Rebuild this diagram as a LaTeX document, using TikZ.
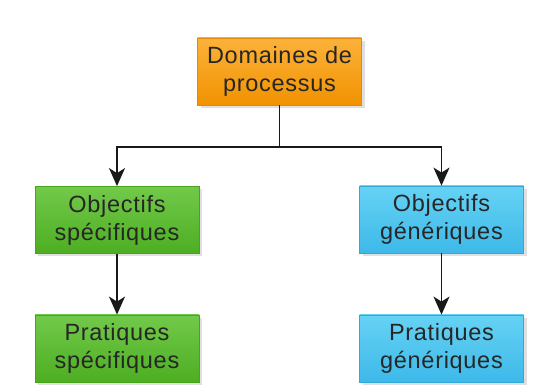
\documentclass[tikz,border=0pt]{standalone}
\usepackage{fontspec}
\setmainfont{Liberation Sans}[LetterSpace=3]
\usetikzlibrary{arrows.meta,shadows}
\definecolor{orTop}{HTML}{FBB23A}
\definecolor{orBot}{HTML}{F29200}
\definecolor{orLine}{HTML}{E08A10}
\definecolor{grTop}{HTML}{72C94A}
\definecolor{grBot}{HTML}{4DAE22}
\definecolor{grLine}{HTML}{49A31F}
\definecolor{blTop}{HTML}{66D2F4}
\definecolor{blBot}{HTML}{3DB9E9}
\definecolor{blLine}{HTML}{35A8D8}
\definecolor{txt}{HTML}{262626}
\tikzset{
  box/.style={minimum width=164pt, minimum height=67pt, inner sep=0pt,
    align=center, font=\fontsize{23.5}{28}\selectfont, text=txt, line width=0.8pt,
    drop shadow={opacity=0.25, shadow xshift=3pt, shadow yshift=-3pt}},
  orbox/.style={box, draw=orLine, top color=orTop, bottom color=orBot},
  grbox/.style={box, draw=grLine, top color=grTop, bottom color=grBot},
  blbox/.style={box, draw=blLine, top color=blTop, bottom color=blBot},
  conn/.style={line width=1.7pt, black!90},
  arr/.style={conn, -{Stealth[length=18pt, width=16pt, inset=5pt]}}
}
\begin{document}
\begin{tikzpicture}[x=1pt,y=1pt]
\useasboundingbox[fill=white] (0,0) rectangle (534,387);
\node[orbox] (dom) at (279.5,315.5) {Domaines de\\processus};
\node[grbox] (os) at (117,167) {Objectifs\\spécifiques};
\node[blbox] (og) at (441.5,167.5) {Objectifs\\génériques};
\node[grbox] (ps) at (117,38.5) {Pratiques\\spécifiques};
\node[blbox] (pg) at (441.5,38.5) {Pratiques\\génériques};
\coordinate (j) at (279.5,240);
\draw[conn] (dom.south) -- (j);
\draw[arr] (j) -| (os.north);
\draw[arr] (j) -| (og.north);
\draw[arr] (os.south) -- (ps.north);
\draw[arr] (og.south) -- (pg.north);
\end{tikzpicture}
\end{document}
